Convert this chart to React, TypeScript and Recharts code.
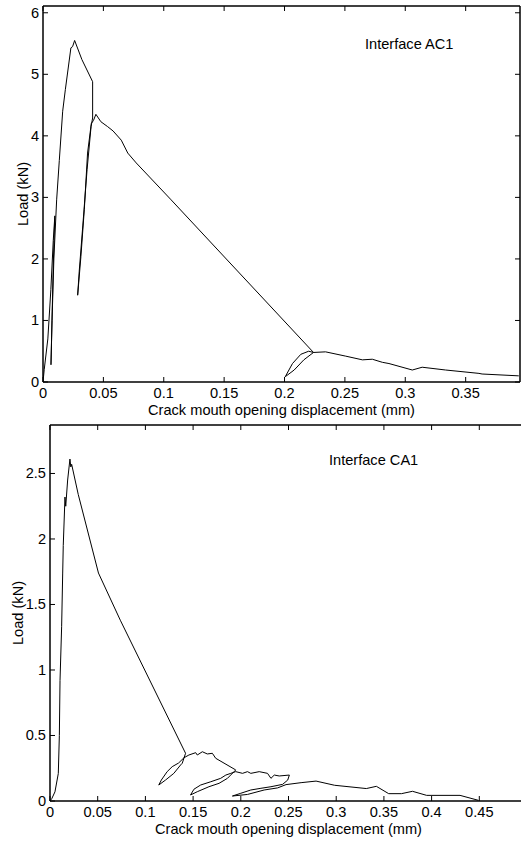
import React from 'react';
import { LineChart, Line, XAxis, YAxis } from 'recharts';

const FONT = '"Liberation Sans", Arial, Helvetica, sans-serif';
const FS = 14.6;

// Interface AC1 (top)
const ac1Cmod = [
  0, 0.001, 0.004, 0.0065, 0.0085, 0.0098, 0.0085, 0.0066, 0.0075, 0.009,
  0.0113, 0.0135, 0.0163, 0.0185, 0.0231, 0.0245, 0.0262, 0.0322, 0.0411, 0.0411,
  0.0398, 0.0365, 0.033, 0.03, 0.0287, 0.0314, 0.0342, 0.0369, 0.04, 0.0418,
  0.0438, 0.0479, 0.0535, 0.058, 0.0648, 0.0702, 0.0772, 0.1061, 0.224, 0.216,
  0.208, 0.2006, 0.2066, 0.2135, 0.22, 0.224, 0.234, 0.2507, 0.2645, 0.2727,
  0.281, 0.2865, 0.3058, 0.314, 0.3334, 0.361, 0.3636, 0.394,
];
const ac1Load = [
  0, 0.2, 0.7, 1.5, 2.3, 2.7, 1.9, 0.28, 1.0, 2.0,
  2.96, 3.6, 4.4, 4.75, 5.43, 5.45, 5.55, 5.24, 4.88, 4.29,
  4.15, 3.45, 2.55, 1.8, 1.41, 2.04, 2.8, 3.72, 4.2, 4.25,
  4.35, 4.23, 4.15, 4.08, 3.93, 3.72, 3.56, 2.96, 0.48, 0.36,
  0.195, 0.086, 0.3, 0.45, 0.5, 0.48, 0.49, 0.42, 0.36, 0.37,
  0.32, 0.3, 0.195, 0.24, 0.195, 0.14, 0.13, 0.1,
];

// Interface CA1 (bottom)
const ca1Cmod = [
  0, 0.002, 0.0052, 0.0087, 0.0098, 0.0105, 0.0122, 0.0133, 0.0139, 0.0157,
  0.0165, 0.0185, 0.0209, 0.0218, 0.0227, 0.0296, 0.0508, 0.0737, 0.1421, 0.1386,
  0.1369, 0.1298, 0.1211, 0.114, 0.1167, 0.1228, 0.1281, 0.1348, 0.1404, 0.1456,
  0.1527, 0.1544, 0.1597, 0.1649, 0.1702, 0.1737, 0.1947, 0.186, 0.1772, 0.1666,
  0.1544, 0.1473, 0.1509, 0.1579, 0.1685, 0.1789, 0.1843, 0.1895, 0.1947, 0.2018,
  0.207, 0.2105, 0.2193, 0.228, 0.2316, 0.2351, 0.2403, 0.2509, 0.2492, 0.2438,
  0.2316, 0.2211, 0.2105, 0.2, 0.1912, 0.207, 0.2245, 0.2386, 0.2474, 0.2632,
  0.2789, 0.2983, 0.3316, 0.3421, 0.355, 0.3684, 0.38, 0.3948, 0.4298, 0.4491,
];
const ca1Load = [
  0, 0.02, 0.07, 0.21, 0.5, 0.92, 1.33, 1.74, 1.95, 2.32,
  2.25, 2.45, 2.61, 2.55, 2.57, 2.34, 1.74, 1.38, 0.364, 0.288,
  0.275, 0.211, 0.16, 0.122, 0.16, 0.224, 0.262, 0.29, 0.33, 0.351,
  0.369, 0.351, 0.376, 0.359, 0.364, 0.326, 0.237, 0.173, 0.135, 0.109,
  0.071, 0.046, 0.09, 0.122, 0.147, 0.173, 0.198, 0.211, 0.224, 0.211,
  0.224, 0.211, 0.224, 0.211, 0.173, 0.198, 0.191, 0.198, 0.16, 0.127,
  0.109, 0.097, 0.084, 0.059, 0.038, 0.05, 0.084, 0.1, 0.125, 0.14,
  0.152, 0.12, 0.095, 0.112, 0.056, 0.056, 0.074, 0.043, 0.043, 0.005,
];

const ac1XTicks = [0, 0.05, 0.1, 0.15, 0.2, 0.25, 0.3, 0.35];
const ac1YTicks = [0, 1, 2, 3, 4, 5, 6];
const ca1XTicks = [0, 0.05, 0.1, 0.15, 0.2, 0.25, 0.3, 0.35, 0.4, 0.45];
const ca1YTicks = [0, 0.5, 1, 1.5, 2, 2.5];

const xTitle = 'Crack mouth opening displacement (mm)';
const yTitle = 'Load (kN)';
const ac1Name = 'Interface AC1';
const ca1Name = 'Interface CA1';

const ac1Data = ac1Cmod.map((x, i) => ({ x, y: ac1Load[i] }));
const ca1Data = ca1Cmod.map((x, i) => ({ x, y: ca1Load[i] }));

const TL = 5;

const BottomTick = (p: any) => (
  <g>
    <line x1={p.x} y1={p.y} x2={p.x} y2={p.y - TL} stroke="#000" strokeWidth={1} />
    <text x={p.x} y={p.y + 16} textAnchor="middle" fontFamily={FONT} fontSize={FS} fill="#000">
      {String(p.payload.value)}
    </text>
  </g>
);
const LeftTick = (p: any) => (
  <g>
    <line x1={p.x} y1={p.y} x2={p.x + TL} y2={p.y} stroke="#000" strokeWidth={1} />
    <text x={p.x - 4} y={p.y + 5} textAnchor="end" fontFamily={FONT} fontSize={FS} fill="#000">
      {String(p.payload.value)}
    </text>
  </g>
);
const TopTick = (p: any) => (
  <line x1={p.x} y1={p.y} x2={p.x} y2={p.y + TL} stroke="#000" strokeWidth={1} />
);
const RightTick = (p: any) => (
  <line x1={p.x} y1={p.y} x2={p.x - TL} y2={p.y} stroke="#000" strokeWidth={1} />
);

const axisLine = { stroke: '#000', strokeWidth: 1.5 };

type PanelProps = {
  data: { x: number; y: number }[];
  xMax: number;
  yMax: number;
  xTicks: number[];
  yTicks: number[];
  width: number;
  height: number;
  plot: { left: number; right: number; top: number; bottom: number };
  titleX: number;
  name: string;
  nameX: number;
  nameY: number;
  yTitleX: number;
  showRight: boolean;
};

function Panel(props: PanelProps) {
  const { data, xMax, yMax, xTicks, yTicks, width, height, plot, titleX, name, nameX, nameY, yTitleX, showRight } = props;
  const margin = {
    left: plot.left - 1,
    right: width - plot.right - (showRight ? 1 : 0),
    top: plot.top - 1,
    bottom: height - plot.bottom - 1,
  };
  const plotMidY = (plot.top + plot.bottom) / 2;
  return (
    <LineChart width={width} height={height} data={data} margin={margin} accessibilityLayer={false} style={{ overflow: 'hidden' }}>
      <XAxis
        xAxisId="b"
        dataKey="x"
        type="number"
        domain={[0, xMax]}
        ticks={xTicks}
        interval={0}
        allowDataOverflow
        height={1}
        tickSize={0}
        tickMargin={0}
        tickLine={false}
        axisLine={axisLine}
        tick={(p: any) => <BottomTick {...p} />}
      />
      <XAxis
        xAxisId="t"
        orientation="top"
        dataKey="x"
        type="number"
        domain={[0, xMax]}
        ticks={xTicks}
        interval={0}
        allowDataOverflow
        height={1}
        tickSize={0}
        tickMargin={0}
        tickLine={false}
        axisLine={axisLine}
        tick={(p: any) => <TopTick {...p} />}
      />
      <YAxis
        yAxisId="l"
        type="number"
        domain={[0, yMax]}
        ticks={yTicks}
        interval={0}
        allowDataOverflow
        width={1}
        tickSize={0}
        tickMargin={0}
        tickLine={false}
        axisLine={axisLine}
        tick={(p: any) => <LeftTick {...p} />}
      />
      {showRight && (
        <YAxis
          yAxisId="r"
          orientation="right"
          type="number"
          domain={[0, yMax]}
          ticks={yTicks}
          interval={0}
          allowDataOverflow
          width={1}
          tickSize={0}
          tickMargin={0}
          tickLine={false}
          axisLine={axisLine}
          tick={(p: any) => <RightTick {...p} />}
        />
      )}
      <Line
        xAxisId="b"
        yAxisId="l"
        dataKey="y"
        stroke="#000"
        strokeWidth={1}
        dot={false}
        activeDot={false}
        isAnimationActive={false}
        type="linear"
      />
      <Line
        xAxisId="t"
        yAxisId={showRight ? 'r' : 'l'}
        dataKey="y"
        stroke="none"
        dot={false}
        activeDot={false}
        isAnimationActive={false}
        type="linear"
      />
      <text x={nameX} y={nameY} fontFamily={FONT} fontSize={FS} fill="#000">
        {name}
      </text>
      <text x={titleX} y={plot.bottom + 32.5} textAnchor="middle" fontFamily={FONT} fontSize={FS} fill="#000">
        {xTitle}
      </text>
      <text
        x={yTitleX}
        y={plotMidY}
        textAnchor="middle"
        dominantBaseline="central"
        transform={`rotate(-90 ${yTitleX} ${plotMidY})`}
        fontFamily={FONT}
        fontSize={FS}
        fill="#000"
      >
        {yTitle}
      </text>
    </LineChart>
  );
}

export default function App() {
  return (
    <div style={{ position: 'absolute', left: 0, top: 0, width: 521, height: 841, overflow: 'hidden', background: '#fff' }}>
      <div style={{ position: 'absolute', left: 0, top: 0, width: 521, height: 420, overflow: 'hidden' }}>
        <Panel
          data={ac1Data}
          xMax={0.395}
          yMax={6.11}
          xTicks={ac1XTicks}
          yTicks={ac1YTicks}
          width={521}
          height={420}
          plot={{ left: 43, right: 520, top: 6, bottom: 382 }}
          titleX={281.5}
          name={ac1Name}
          nameX={365}
          nameY={49}
          yTitleX={22.5}
          showRight={true}
        />
      </div>
      <div style={{ position: 'absolute', left: 0, top: 420, width: 521, height: 421, overflow: 'hidden' }}>
        <Panel
          data={ca1Data}
          xMax={0.4937}
          yMax={2.87}
          xTicks={ca1XTicks}
          yTicks={ca1YTicks}
          width={521}
          height={421}
          plot={{ left: 50, right: 521, top: 5, bottom: 381 }}
          titleX={288.5}
          name={ca1Name}
          nameX={329}
          nameY={45}
          yTitleX={17.5}
          showRight={false}
        />
      </div>
    </div>
  );
}
